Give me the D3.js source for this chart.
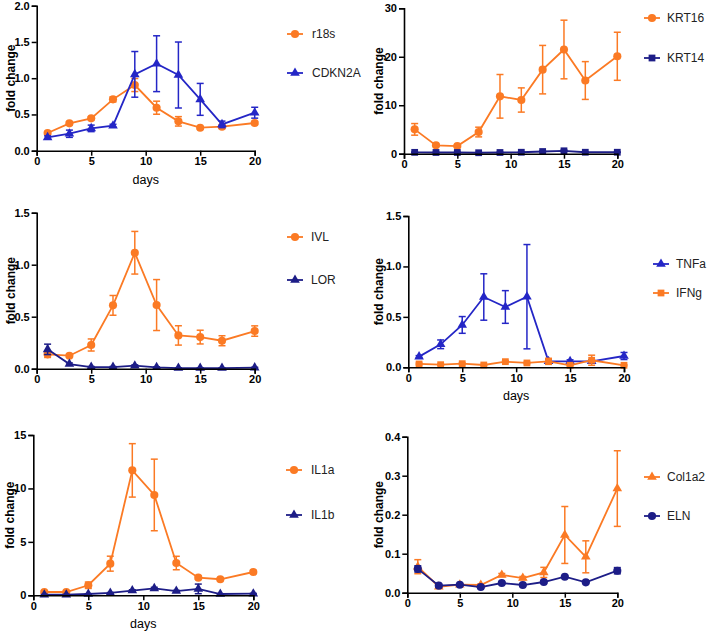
<!DOCTYPE html>
<html><head><meta charset="utf-8">
<script src="https://cdn.jsdelivr.net/npm/d3@7"></script>
<style>
body{margin:0;background:#fff}
svg{display:block}
text{font-family:"Liberation Sans",Arial,Helvetica,sans-serif}
</style>
</head><body>
<svg id="c" width="708" height="636"></svg>
<script>
// ---- data ----
const days = [1,3,5,7,9,11,13,15,17,20];
const xTicks = [0,5,10,15,20];

const r18s      = [0.244,0.377,0.446,0.708,0.906,0.593,0.405,0.317,0.331,0.382];
const r18sErr   = [0.02,0.02,0.02,0.035,0.09,0.09,0.065,0.015,0.025,0.02];
const CDKN2A    = [0.184,0.234,0.308,0.345,1.053,1.20,1.044,0.708,0.363,0.524];
const CDKN2AErr = [0.02,0.05,0.045,0.02,0.315,0.385,0.455,0.22,0.045,0.075];

const KRT16     = [5.02,1.72,1.58,4.47,11.84,11.08,17.34,21.5,15.1,20.1];
const KRT16Err  = [1.2,0.2,0.2,1.0,4.5,2.5,5.0,6.05,3.9,4.96];
const KRT14     = [0.28,0.25,0.25,0.2,0.25,0.3,0.45,0.6,0.3,0.3];
const KRT14Err  = [0.05,0.05,0.05,0.05,0.05,0.05,0.1,0.15,0.05,0.05];

const IVL       = [0.138,0.125,0.228,0.609,1.115,0.612,0.32,0.304,0.269,0.362];
const IVLErr    = [0.03,0.015,0.058,0.095,0.205,0.245,0.093,0.066,0.048,0.05];
const LOR       = [0.186,0.045,0.016,0.016,0.029,0.013,0.006,0.006,0.006,0.01];
const LORErr    = [0.05,0.01,0.005,0.005,0.008,0.005,0.003,0.003,0.003,0.004];

const TNFa      = [0.106,0.228,0.42,0.697,0.598,0.70,0.059,0.059,0.059,0.112];
const TNFaErr   = [0.01,0.043,0.083,0.23,0.162,0.517,0.02,0.015,0.015,0.035];
const IFNg      = [0.033,0.026,0.036,0.023,0.056,0.043,0.059,0.02,0.07,0.02];
const IFNgErr   = [0.008,0.006,0.008,0.006,0.01,0.008,0.03,0.006,0.05,0.006];

const IL1a      = [0.31,0.31,0.94,2.96,11.69,9.39,3.02,1.65,1.5,2.18];
const IL1aErr   = [0.1,0.1,0.3,0.7,2.5,3.35,0.63,0.15,0.12,0.15];
const IL1b      = [0.05,0.05,0.12,0.22,0.44,0.65,0.4,0.6,0.12,0.15];
const IL1bErr   = [0.02,0.02,0.03,0.04,0.08,0.1,0.06,0.45,0.03,0.03];

const Col1a2    = [0.0667,0.0154,0.0205,0.0197,0.0453,0.0376,0.052,0.148,0.092,0.267];
const Col1a2Err = [0.018,0.004,0.003,0.003,0.004,0.004,0.013,0.073,0.041,0.097];
const ELN       = [0.061,0.018,0.0205,0.0145,0.0248,0.0197,0.0274,0.041,0.0265,0.0564];
const ELNErr    = [0.008,0.003,0.002,0.002,0.002,0.002,0.002,0.002,0.002,0.008];

const yTicks1 = [0,0.5,1.0,1.5,2.0];
const yTicks2 = [0,10,20,30];
const yTicks3 = [0,0.5,1.0,1.5];
const yTicks4 = [0,0.5,1.0,1.5];
const yTicks5 = [0,5,10,15];
const yTicks6 = [0,0.1,0.2,0.3,0.4];

// ---- styling ----
const ORANGE = "#fb7a24";
const BLUE = "#2426c6";
const NAVY = "#1d1d87";

const panels = [
  {box:[36.7,254.7,5.7,150.7], ticks:yTicks1, fmt:".1f", days:true, ylx:11, leg:[295,312,34,73],
   series:[{name:"r18s",v:r18s,e:r18sErr,c:ORANGE,s:"circle"},{name:"CDKN2A",v:CDKN2A,e:CDKN2AErr,c:BLUE,s:"triangle"}]},
  {box:[404,617.3,8.3,153.7], ticks:yTicks2, fmt:"d", days:false, ylx:379, leg:[652,667,18,58],
   series:[{name:"KRT16",v:KRT16,e:KRT16Err,c:ORANGE,s:"circle"},{name:"KRT14",v:KRT14,e:KRT14Err,c:NAVY,s:"square"}]},
  {box:[36.7,254.7,212.7,368.7], ticks:yTicks3, fmt:".1f", days:false, ylx:11, leg:[295,311,237,280],
   series:[{name:"IVL",v:IVL,e:IVLErr,c:ORANGE,s:"circle"},{name:"LOR",v:LOR,e:LORErr,c:NAVY,s:"triangle"}]},
  {box:[408.3,624,216,367.3], ticks:yTicks4, fmt:".1f", days:true, ylx:379, leg:[661,676,264,293],
   series:[{name:"TNFa",v:TNFa,e:TNFaErr,c:BLUE,s:"triangle"},{name:"IFNg",v:IFNg,e:IFNgErr,c:ORANGE,s:"square"}]},
  {box:[33.3,253.3,435,595.3], ticks:yTicks5, fmt:"d", days:true, ylx:10, leg:[294,311,470,515],
   series:[{name:"IL1a",v:IL1a,e:IL1aErr,c:ORANGE,s:"circle"},{name:"IL1b",v:IL1b,e:IL1bErr,c:NAVY,s:"triangle"}]},
  {box:[407.3,617.3,436.7,592.7], ticks:yTicks6, fmt:".1f", days:false, ylx:379, leg:[652,667,477,516],
   series:[{name:"Col1a2",v:Col1a2,e:Col1a2Err,c:ORANGE,s:"triangle"},{name:"ELN",v:ELN,e:ELNErr,c:NAVY,s:"circle"}]}
];

const svg = d3.select("#c");

function marker(g, shape, x, y, color){
  let sym, size;
  if(shape==="circle"){sym=d3.symbolCircle; size=52;}
  else if(shape==="triangle"){sym=d3.symbolTriangle; size=40;}
  else {sym=d3.symbolSquare; size=46;}
  g.append("path").attr("d", d3.symbol().type(sym).size(size)())
   .attr("transform",`translate(${x},${y})`).attr("fill",color);
}

panels.forEach(p=>{
  const [x0,x1,yT,yB] = p.box;
  const x = d3.scaleLinear().domain([0,20]).range([x0,x1]);
  const y = d3.scaleLinear().domain([0,p.ticks[p.ticks.length-1]]).range([yB,yT]);
  const g = svg.append("g");

  // series
  p.series.forEach(s=>{
    const sg = g.append("g");
    const line = d3.line().x((d,i)=>x(days[i])).y(d=>y(d));
    sg.append("path").datum(s.v).attr("d",line).attr("fill","none")
      .attr("stroke",s.c).attr("stroke-width",1.8);
    s.v.forEach((v,i)=>{
      const cx = x(days[i]);
      const lo = y(Math.max(0,v-s.e[i])), hi = y(v+s.e[i]);
      sg.append("line").attr("x1",cx).attr("x2",cx).attr("y1",lo).attr("y2",hi)
        .attr("stroke",s.c).attr("stroke-width",1.5);
      [lo,hi].forEach(yy=>sg.append("line").attr("x1",cx-3.5).attr("x2",cx+3.5)
        .attr("y1",yy).attr("y2",yy).attr("stroke",s.c).attr("stroke-width",1.5));
      marker(sg,s.s,cx,y(v),s.c);
    });
  });

  // axes
  const xa = g.append("g").attr("transform",`translate(0,${yB})`)
    .call(d3.axisBottom(x).tickValues(xTicks).tickSize(5).tickPadding(2).tickFormat(d3.format("d")));
  const ya = g.append("g").attr("transform",`translate(${x0},0)`)
    .call(d3.axisLeft(y).tickValues(p.ticks).tickSize(5).tickPadding(2).tickFormat(d3.format(p.fmt)));
  [xa,ya].forEach(a=>{
    a.select(".domain").attr("stroke","#000").attr("stroke-width",1.6);
    a.selectAll(".tick line").attr("stroke","#000").attr("stroke-width",1.5);
    a.selectAll(".tick text").attr("fill","#000").style("font-size","11px").style("font-weight","bold")
      .style("font-family",'"Liberation Sans",Arial,sans-serif');
  });

  // y label
  g.append("text").attr("transform",`translate(${p.ylx},${(yT+yB)/2}) rotate(-90)`)
    .attr("text-anchor","middle").attr("dy","0.35em")
    .style("font-size","12px").style("font-weight","bold").text("fold change");
  if(p.days){
    g.append("text").attr("x",(x0+x1)/2).attr("y",yB+33).attr("text-anchor","middle")
      .style("font-size","12.5px").text("days");
  }

  // legend
  const [mx,tx,ly1,ly2] = p.leg;
  [ly1,ly2].forEach((ly,i)=>{
    const s = p.series[i];
    g.append("line").attr("x1",mx-8).attr("x2",mx+8).attr("y1",ly).attr("y2",ly)
      .attr("stroke",s.c).attr("stroke-width",1.8);
    marker(g,s.s,mx,ly,s.c);
    g.append("text").attr("x",tx).attr("y",ly).attr("dy","0.35em")
      .style("font-size","12px").attr("fill","#222").text(s.name);
  });
});
</script>
</body></html>
